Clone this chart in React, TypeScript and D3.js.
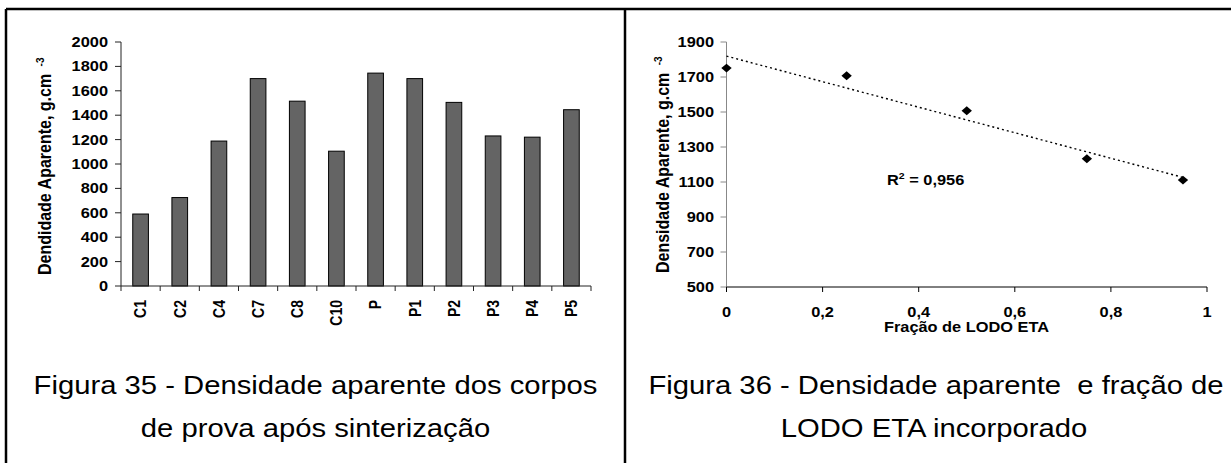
import React from "react";
import * as d3 from "d3";

// Figure 35: apparent density per specimen
const specimens = ["C1", "C2", "C4", "C7", "C8", "C10", "P", "P1", "P2", "P3", "P4", "P5"];
const densities = [590, 725, 1188, 1700, 1515, 1105, 1745, 1700, 1505, 1230, 1220, 1445];
const barTicks = [0, 200, 400, 600, 800, 1000, 1200, 1400, 1600, 1800, 2000];

// Figure 36: apparent density vs sludge fraction
const sludgeFraction = [0, 0.25, 0.5, 0.75, 0.95];
const sludgeDensity = [1751, 1707, 1507, 1233, 1111];
const scatterYTicks = [500, 700, 900, 1100, 1300, 1500, 1700, 1900];
const scatterXTicks = [0, 0.2, 0.4, 0.6, 0.8, 1];

const FONT = "'Liberation Sans', Arial, Helvetica, sans-serif";
const SX = 1.17; // text is drawn slightly widened

type TProps = {
  x: number;
  y: number;
  size: number;
  anchor?: "start" | "middle" | "end";
  bold?: boolean;
  rotate?: boolean;
  dy?: string;
  children: React.ReactNode;
};

function SText({ x, y, size, anchor = "start", bold = false, rotate = false, dy, children }: TProps) {
  return (
    <text
      transform={`translate(${x},${y}) scale(${SX},1)${rotate ? " rotate(-90)" : ""}`}
      fontFamily={FONT}
      fontSize={size}
      fontWeight={bold ? "bold" : "normal"}
      textAnchor={anchor}
      dy={dy}
      fill="#000"
      style={{ whiteSpace: "pre" }}
    >
      {children}
    </text>
  );
}

function comma(v: number, digits: number) {
  return v === 0 || v === 1 ? String(v) : v.toFixed(digits).replace(".", ",");
}

function BarChart() {
  const x = d3.scaleBand<string>().domain(specimens).range([121, 591]).padding(0);
  const y = d3.scaleLinear().domain([0, 2000]).range([286, 42]);
  const bw = x.bandwidth() * 0.4;
  const bounds = specimens.map((s) => x(s) as number).concat([x.range()[1]]);
  return (
    <g>
      {specimens.map((s, i) => (
        <rect
          key={s}
          x={(x(s) as number) + (x.bandwidth() - bw) / 2}
          y={y(densities[i])}
          width={bw}
          height={y(0) - y(densities[i])}
          fill="#646464"
          stroke="#000"
          strokeWidth={1}
        />
      ))}
      <line x1={121} x2={121} y1={y(2000)} y2={y(0)} stroke="#222" />
      <line x1={121} x2={591} y1={y(0)} y2={y(0)} stroke="#222" />
      {barTicks.map((t) => (
        <g key={t}>
          <line x1={115} x2={121} y1={y(t)} y2={y(t)} stroke="#222" />
          <SText x={108} y={y(t)} size={14} bold anchor="end" dy="0.36em">
            {t}
          </SText>
        </g>
      ))}
      {bounds.map((b, i) => (
        <line key={i} x1={b} x2={b} y1={y(0)} y2={y(0) + 5} stroke="#222" />
      ))}
      {specimens.map((s) => (
        <SText key={s} x={(x(s) as number) + x.bandwidth() / 2} y={300} size={14} bold anchor="end" rotate dy="0.36em">
          {s}
        </SText>
      ))}
      <SText x={51} y={275} size={16} bold rotate>
        <tspan>Dendidade Aparente, g.cm </tspan>
        <tspan fontSize={10} dx={3} dy={-6}>-3</tspan>
      </SText>
      <SText x={315.5} y={394} size={25} anchor="middle">
        Figura 35 - Densidade aparente dos corpos
      </SText>
      <SText x={315.5} y={437} size={25} anchor="middle">
        de prova após sinterização
      </SText>
    </g>
  );
}

function ScatterChart() {
  const x = d3.scaleLinear().domain([0, 1]).range([726.5, 1207]);
  const y = d3.scaleLinear().domain([500, 1900]).range([287, 42]);
  const pts = sludgeFraction.map((f, i) => [f, sludgeDensity[i]] as [number, number]);
  const reg = (() => {
    const mx = d3.mean(sludgeFraction) as number;
    const my = d3.mean(sludgeDensity) as number;
    let sxy = 0, sxx = 0, syy = 0;
    pts.forEach(([a, b]) => {
      sxy += (a - mx) * (b - my);
      sxx += (a - mx) ** 2;
      syy += (b - my) ** 2;
    });
    const slope = sxy / sxx;
    return { slope, intercept: my - slope * mx, r2: (sxy * sxy) / (sxx * syy) };
  })();
  const xEnd = d3.max(sludgeFraction) as number;
  const trend = d3.line<number>()
    .x((f) => x(f))
    .y((f) => y(reg.intercept + reg.slope * f))([0, xEnd]);
  const diamond = d3.symbol().type(d3.symbolDiamond2).size(50)();
  return (
    <g>
      <line x1={x(0)} x2={x(0)} y1={y(1900)} y2={y(500)} stroke="#888" />
      <line x1={x(0)} x2={x(1)} y1={y(500)} y2={y(500)} stroke="#000" />
      {scatterYTicks.map((t) => (
        <g key={t}>
          <line x1={x(0) - 6} x2={x(0)} y1={y(t)} y2={y(t)} stroke="#888" />
          <SText x={714} y={y(t)} size={14} bold anchor="end" dy="0.36em">
            {t}
          </SText>
        </g>
      ))}
      {scatterXTicks.map((t) => (
        <g key={t}>
          <line x1={x(t)} x2={x(t)} y1={y(500)} y2={y(500) + 5} stroke="#000" />
          <SText x={x(t)} y={317} size={14} bold anchor="middle">
            {comma(t, 1)}
          </SText>
        </g>
      ))}
      <path d={trend ?? ""} fill="none" stroke="#000" strokeWidth={1.4} strokeDasharray="2 3" />
      {pts.map(([f, d]) => (
        <path key={f} d={diamond ?? ""} transform={`translate(${x(f)},${y(d)}) scale(${SX},1)`} fill="#000" />
      ))}
      <SText x={887} y={185} size={14} bold>
        <tspan>R</tspan>
        <tspan fontSize={9} dy={-6}>2</tspan>
        <tspan dy={6}>{` = ${reg.r2.toFixed(3).replace(".", ",")}`}</tspan>
      </SText>
      <SText x={966.5} y={332} size={14} bold anchor="middle">
        Fração de LODO ETA
      </SText>
      <SText x={669} y={273} size={16} bold rotate>
        <tspan>Densidade Aparente, g.cm </tspan>
        <tspan fontSize={10} dx={3} dy={-6}>-3</tspan>
      </SText>
      <SText x={936} y={394} size={25} anchor="middle">
        Figura 36 - Densidade aparente  e fração de
      </SText>
      <SText x={934} y={437} size={25} anchor="middle">
        LODO ETA incorporado
      </SText>
    </g>
  );
}

export default function App() {
  return (
    <svg
      width={1231}
      height={463}
      style={{ position: "absolute", left: 0, top: 0, background: "#fff" }}
    >
      <rect x={0} y={0} width={1231} height={463} fill="#fff" />
      <line x1={6} x2={1231} y1={9} y2={9} stroke="#000" strokeWidth={2.5} />
      <line x1={6} x2={6} y1={9} y2={463} stroke="#000" strokeWidth={2.5} />
      <line x1={625} x2={625} y1={9} y2={463} stroke="#000" strokeWidth={2.5} />
      <BarChart />
      <ScatterChart />
    </svg>
  );
}
